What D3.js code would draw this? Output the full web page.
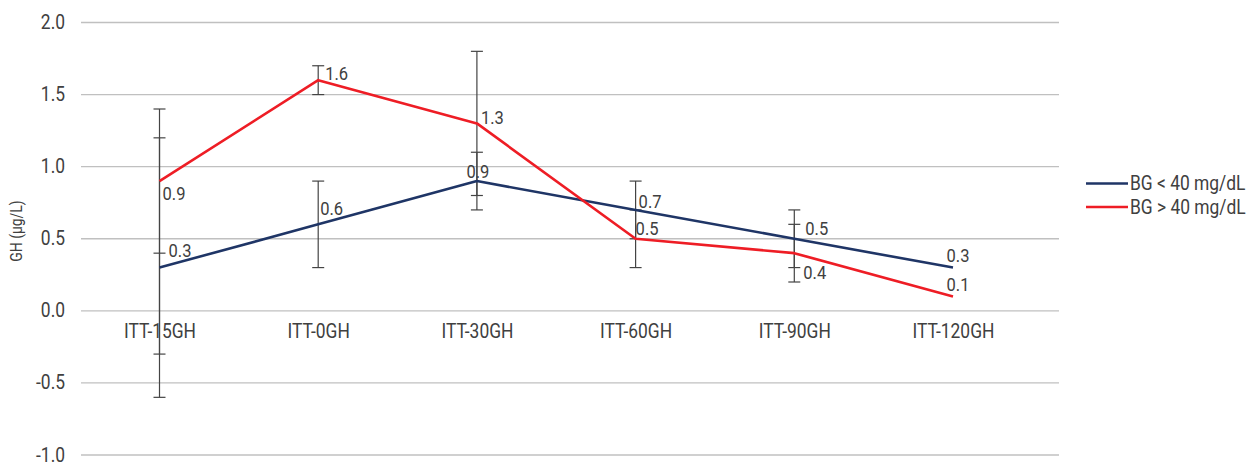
<!DOCTYPE html>
<html>
<head>
<meta charset="utf-8">
<script src="https://cdn.jsdelivr.net/npm/d3@7"></script>
<style>
  html, body { margin: 0; padding: 0; background: #fff; }
  svg text { font-family: "Roboto", "Liberation Sans", sans-serif; fill: #404040; }
</style>
</head>
<body>
<svg id="chart" width="1255" height="465"></svg>
<script>
// ---- data ----
const categories = ["ITT-15GH", "ITT-0GH", "ITT-30GH", "ITT-60GH", "ITT-90GH", "ITT-120GH"];
const seriesNames = ["BG < 40 mg/dL", "BG > 40 mg/dL"];
const blueValues = [0.3, 0.6, 0.9, 0.7, 0.5, 0.3];
const redValues = [0.9, 1.6, 1.3, 0.5, 0.4, 0.1];
// error-bar cap values per category
const blueCaps = [[1.2, -0.6], [0.9, 0.3], [1.1, 0.7], [0.9, 0.5], [0.7, 0.3], []];
const redCaps = [[1.4, 0.4, -0.3], [1.7, 1.5], [1.8, 0.8], [0.7, 0.3], [0.6, 0.2], []];
const yTicks = [-1.0, -0.5, 0.0, 0.5, 1.0, 1.5, 2.0];
const yTitle = "GH (μg/L)";

// ---- label placement (px offsets from point) ----
const blueLabelPos = [
  {dx: 9, dy: -17, a: "start"}, {dx: 2, dy: -16, a: "start"}, {dx: 1, dy: -10, a: "middle"},
  {dx: 3, dy: -9, a: "start"}, {dx: 11, dy: -10, a: "start"}, {dx: 5, dy: -12, a: "middle"}
];
const redLabelPos = [
  {dx: 3, dy: 12, a: "start"}, {dx: 7, dy: -7, a: "start"}, {dx: 4, dy: -6, a: "start"},
  {dx: 0, dy: -10, a: "start"}, {dx: 9, dy: 19, a: "start"}, {dx: 5, dy: -12, a: "middle"}
];

const colors = ["#1f3566", "#ee1d25"];
const fmt = v => d3.format(".1f")(v).replace("−", "-");
const svg = d3.select("#chart");

const x = d3.scalePoint().domain(categories).range([159.5, 953]);
const y = d3.scaleLinear().domain([-1, 2]).range([455, 22.5]);
const gridLeft = 81, gridRight = 1059;

// gridlines
svg.append("g").selectAll("line").data(yTicks).join("line")
  .attr("x1", gridLeft).attr("x2", gridRight)
  .attr("y1", d => y(d)).attr("y2", d => y(d))
  .attr("stroke", "#c0c0c0").attr("stroke-width", 1.3);

// y axis labels
const yAxis = d3.axisLeft(y).tickValues(yTicks).tickFormat(fmt).tickSize(0).tickPadding(0);
const gy = svg.append("g").attr("transform", "translate(65,0)").call(yAxis);
gy.select(".domain").remove();
gy.selectAll("text").style("font-size", "20px").attr("fill", "#404040")
  .attr("font-family", null).attr("dy", "0.3em");

// y title
const title = svg.append("text")
  .attr("transform", "translate(22,231) rotate(-90)")
  .attr("text-anchor", "middle")
  .style("font-size", "16px")
  .text(yTitle);

// x axis labels
const xAxis = d3.axisBottom(x).tickSize(0).tickPadding(0);
const gx = svg.append("g").attr("transform", `translate(0,${y(0) + 13})`).call(xAxis);
gx.select(".domain").remove();
gx.selectAll("text").style("font-size", "20px").attr("fill", "#404040").attr("dy", "0.71em")
  .attr("font-family", null);

// error bars
function drawErrors(caps) {
  const g = svg.append("g").attr("stroke", "#444").attr("stroke-width", 1.2);
  caps.forEach((cl, i) => {
    if (!cl.length) return;
    const cx = x(categories[i]);
    g.append("line").attr("x1", cx).attr("x2", cx)
      .attr("y1", y(d3.max(cl))).attr("y2", y(d3.min(cl)));
    cl.forEach(v => {
      g.append("line").attr("x1", cx - 6).attr("x2", cx + 6)
        .attr("y1", y(v)).attr("y2", y(v));
    });
  });
}
drawErrors(blueCaps);
drawErrors(redCaps);

// lines
const line = d3.line().x((d, i) => x(categories[i])).y(d => y(d));
[blueValues, redValues].forEach((vals, s) => {
  svg.append("path").datum(vals)
    .attr("fill", "none").attr("stroke", colors[s]).attr("stroke-width", 2.6)
    .attr("stroke-linejoin", "round")
    .attr("d", line);
});

// data labels
function drawLabels(vals, pos) {
  svg.append("g").selectAll("text").data(vals).join("text")
    .attr("x", (d, i) => x(categories[i]) + pos[i].dx)
    .attr("y", (d, i) => y(d) + pos[i].dy)
    .attr("dy", "0.35em")
    .attr("text-anchor", (d, i) => pos[i].a)
    .style("font-size", "19px")
    .text(d => fmt(d));
}
drawLabels(blueValues, blueLabelPos);
drawLabels(redValues, redLabelPos);

// legend
const leg = svg.append("g");
seriesNames.forEach((name, s) => {
  const ly = 183.5 + s * 23.5;
  leg.append("line").attr("x1", 1086).attr("x2", 1128).attr("y1", ly).attr("y2", ly)
    .attr("stroke", colors[s]).attr("stroke-width", 2.6);
  leg.append("text").attr("x", 1130).attr("y", ly).attr("dy", "0.35em")
    .style("font-size", "20px").text(name);
});

// condense all text horizontally about its anchor (reference uses a condensed face)
const K = 0.87;
svg.selectAll("text").each(function () {
  const el = d3.select(this);
  if (this === title.node()) {
    el.attr("transform", el.attr("transform") + ` scale(${K},1)`);
    return;
  }
  const tx = +this.getAttribute("x") || 0;
  el.attr("transform", `translate(${tx},0) scale(${K},1) translate(${-tx},0)`);
});
</script>
</body>
</html>
